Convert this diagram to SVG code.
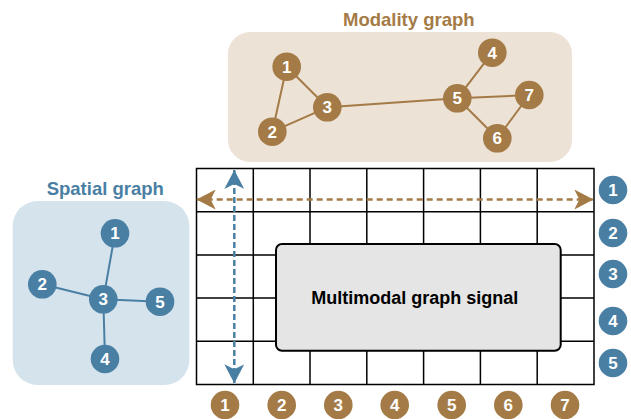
<svg xmlns="http://www.w3.org/2000/svg" width="631" height="419" viewBox="0 0 631 419">
<defs>
<style>
.brn{fill:#a47b46}
.blu{fill:#4a7fa4}
.lbl{font-family:"Liberation Sans",Arial,sans-serif;font-weight:bold;font-size:17px;fill:#fff;text-anchor:middle}
.ttl{font-family:"Liberation Sans",Arial,sans-serif;font-weight:bold;font-size:18.5px;text-anchor:middle}
.eb{stroke:#a47b46;stroke-width:2;fill:none}
.es{stroke:#4a7fa4;stroke-width:2;fill:none}
.grid{stroke:#000;stroke-width:1.5;fill:none}
</style>
<marker id="ab" viewBox="0 0 19 20" refX="19" refY="10" markerWidth="19" markerHeight="20" markerUnits="userSpaceOnUse" orient="auto-start-reverse">
<path d="M0,0 L19,10 L0,20 L5,10 Z" fill="#a47b46"/>
</marker>
<marker id="as" viewBox="0 0 19 20" refX="19" refY="10" markerWidth="19" markerHeight="20" markerUnits="userSpaceOnUse" orient="auto-start-reverse">
<path d="M0,0 L19,10 L0,20 L5,10 Z" fill="#4a7fa4"/>
</marker>
</defs>
<rect width="631" height="419" fill="#fff"/>

<!-- Modality graph panel -->
<g id="modality-panel">
<rect x="228" y="32" width="344" height="130" rx="22" fill="#ece2d6"/>
<text class="ttl" x="408.8" y="25.5" fill="#a47b46">Modality graph</text>
</g>
<g id="modality-edges">
<line class="eb" x1="286.7" y1="66.7" x2="272.3" y2="131.7"/>
<line class="eb" x1="286.7" y1="66.7" x2="327.3" y2="107.3"/>
<line class="eb" x1="272.3" y1="131.7" x2="327.3" y2="107.3"/>
<line class="eb" x1="327.3" y1="107.3" x2="457.3" y2="98.3"/>
<line class="eb" x1="457.3" y1="98.3" x2="492.3" y2="52.7"/>
<line class="eb" x1="457.3" y1="98.3" x2="529.3" y2="95"/>
<line class="eb" x1="457.3" y1="98.3" x2="497.3" y2="138.3"/>
<line class="eb" x1="497.3" y1="138.3" x2="529.3" y2="95"/>
</g>
<g id="m1"><circle class="brn" cx="286.7" cy="66.7" r="14.3"/><text class="lbl" x="286.7" y="72.7">1</text></g>
<g id="m2"><circle class="brn" cx="272.3" cy="131.7" r="14.3"/><text class="lbl" x="272.3" y="137.7">2</text></g>
<g id="m3"><circle class="brn" cx="327.3" cy="107.3" r="14.3"/><text class="lbl" x="327.3" y="113.3">3</text></g>
<g id="m4"><circle class="brn" cx="492.3" cy="52.7" r="14.3"/><text class="lbl" x="492.3" y="58.7">4</text></g>
<g id="m5"><circle class="brn" cx="457.3" cy="98.3" r="14.3"/><text class="lbl" x="457.3" y="104.3">5</text></g>
<g id="m6"><circle class="brn" cx="497.3" cy="138.3" r="14.3"/><text class="lbl" x="497.3" y="144.3">6</text></g>
<g id="m7"><circle class="brn" cx="529.3" cy="95" r="14.3"/><text class="lbl" x="529.3" y="101">7</text></g>

<!-- Spatial graph panel -->
<g id="spatial-panel">
<rect x="12.7" y="201" width="176.6" height="184" rx="25" fill="#d5e3ec"/>
<text class="ttl" x="105.3" y="195" fill="#4a7fa4">Spatial graph</text>
</g>
<g id="spatial-edges">
<line class="es" x1="115" y1="233.3" x2="103.3" y2="299.3"/>
<line class="es" x1="42.3" y1="284.3" x2="103.3" y2="299.3"/>
<line class="es" x1="103.3" y1="299.3" x2="160" y2="301.7"/>
<line class="es" x1="103.3" y1="299.3" x2="105" y2="359"/>
</g>
<g id="s1"><circle class="blu" cx="115" cy="233.3" r="14.3"/><text class="lbl" x="115" y="239.3">1</text></g>
<g id="s2"><circle class="blu" cx="42.3" cy="284.3" r="14.3"/><text class="lbl" x="42.3" y="290.3">2</text></g>
<g id="s3"><circle class="blu" cx="103.3" cy="299.3" r="14.3"/><text class="lbl" x="103.3" y="305.3">3</text></g>
<g id="s4"><circle class="blu" cx="105" cy="359" r="14.3"/><text class="lbl" x="105" y="365">4</text></g>
<g id="s5"><circle class="blu" cx="160" cy="301.7" r="14.3"/><text class="lbl" x="160" y="307.7">5</text></g>

<!-- Grid -->
<g id="grid">
<rect class="grid" x="196.5" y="168.5" width="397.5" height="216"/>
<line class="grid" x1="253.3" y1="168.5" x2="253.3" y2="384.5"/>
<line class="grid" x1="310" y1="168.5" x2="310" y2="384.5"/>
<line class="grid" x1="366.8" y1="168.5" x2="366.8" y2="384.5"/>
<line class="grid" x1="423.6" y1="168.5" x2="423.6" y2="384.5"/>
<line class="grid" x1="480.4" y1="168.5" x2="480.4" y2="384.5"/>
<line class="grid" x1="537.2" y1="168.5" x2="537.2" y2="384.5"/>
<line class="grid" x1="196.5" y1="211.7" x2="594" y2="211.7"/>
<line class="grid" x1="196.5" y1="254.9" x2="594" y2="254.9"/>
<line class="grid" x1="196.5" y1="298.1" x2="594" y2="298.1"/>
<line class="grid" x1="196.5" y1="341.3" x2="594" y2="341.3"/>
</g>

<g id="connectors">
<line x1="196.7" y1="199.5" x2="593.3" y2="199.5" stroke="#a47b46" stroke-width="2.5" stroke-dasharray="6,4" marker-start="url(#ab)" marker-end="url(#ab)"/>
<line x1="234.3" y1="170" x2="234.3" y2="383.3" stroke="#4a7fa4" stroke-width="2.5" stroke-dasharray="6,3" marker-start="url(#as)" marker-end="url(#as)"/>
</g>

<g id="signal">
<rect x="276" y="244" width="284.7" height="106.7" rx="6" fill="#e5e5e5" stroke="#000" stroke-width="2"/>
<text x="414.8" y="304" font-family="'Liberation Sans',Arial,sans-serif" font-weight="bold" font-size="18" text-anchor="middle" fill="#000">Multimodal graph signal</text>
</g>

<!-- Row labels -->
<g id="r1"><circle class="blu" cx="613" cy="190" r="14.3"/><text class="lbl" x="613" y="196">1</text></g>
<g id="r2"><circle class="blu" cx="613" cy="233" r="14.3"/><text class="lbl" x="613" y="239">2</text></g>
<g id="r3"><circle class="blu" cx="613" cy="274" r="14.3"/><text class="lbl" x="613" y="280">3</text></g>
<g id="r4"><circle class="blu" cx="613" cy="321" r="14.3"/><text class="lbl" x="613" y="327">4</text></g>
<g id="r5"><circle class="blu" cx="613" cy="363" r="14.3"/><text class="lbl" x="613" y="369">5</text></g>

<!-- Column labels -->
<g id="c1"><circle class="brn" cx="225" cy="405" r="14.3"/><text class="lbl" x="225" y="411">1</text></g>
<g id="c2"><circle class="brn" cx="281.7" cy="405" r="14.3"/><text class="lbl" x="281.7" y="411">2</text></g>
<g id="c3"><circle class="brn" cx="338.3" cy="405" r="14.3"/><text class="lbl" x="338.3" y="411">3</text></g>
<g id="c4"><circle class="brn" cx="394.7" cy="405" r="14.3"/><text class="lbl" x="394.7" y="411">4</text></g>
<g id="c5"><circle class="brn" cx="451.7" cy="405" r="14.3"/><text class="lbl" x="451.7" y="411">5</text></g>
<g id="c6"><circle class="brn" cx="508.3" cy="405" r="14.3"/><text class="lbl" x="508.3" y="411">6</text></g>
<g id="c7"><circle class="brn" cx="565" cy="405" r="14.3"/><text class="lbl" x="565" y="411">7</text></g>
</svg>
